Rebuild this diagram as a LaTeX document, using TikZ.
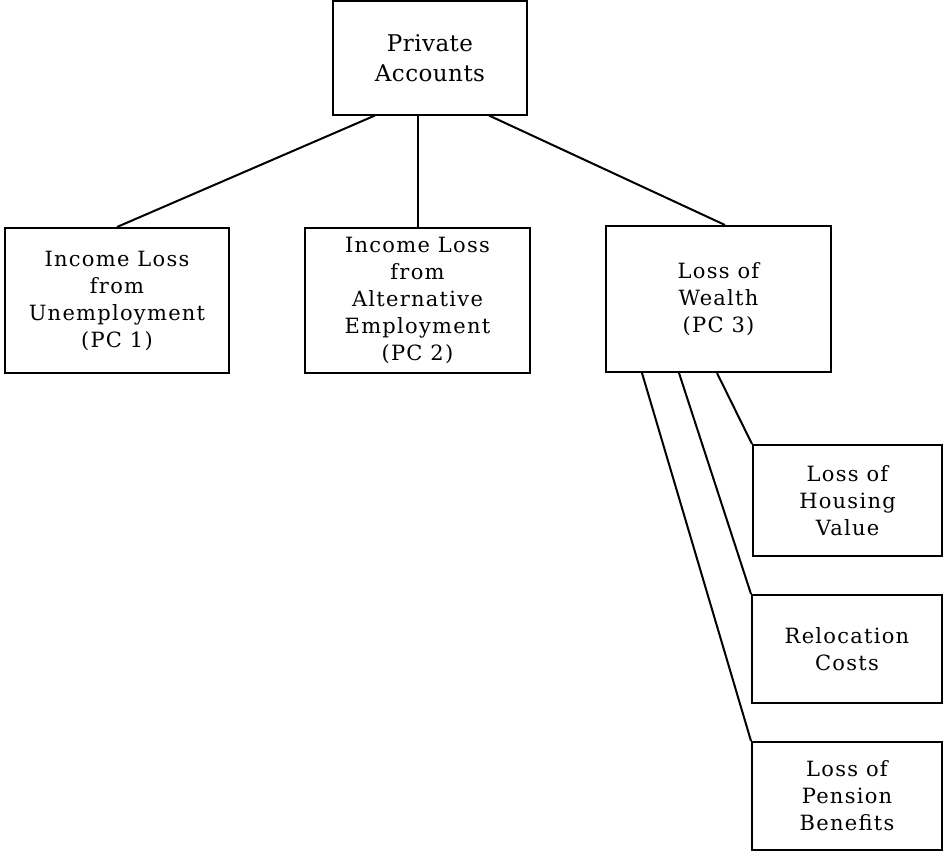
\documentclass[tikz,border=0pt]{standalone}
\usepackage{fontspec}
\newfontfamily\boxfont{DejaVu Serif}[LetterSpace=6]
\newfontfamily\topfont{DejaVu Serif}[LetterSpace=2]
\tikzset{
  box/.style={draw, line width=2pt, inner sep=0pt, align=center, anchor=center,
    font=\boxfont\fontsize{21}{27}\selectfont},
  topbox/.style={box, font=\topfont\fontsize{23}{30}\selectfont},
  link/.style={line width=2pt}
}
\begin{document}
\begin{tikzpicture}[x=1pt,y=-1pt]
\useasboundingbox (0,0) rectangle (948,851);
\node[topbox, minimum width=194pt, minimum height=113pt] (pa) at (430,58) {Private\\Accounts};
\node[box, minimum width=224pt, minimum height=145pt] (b1) at (117,300.5) {Income Loss\\from\\Unemployment\\(PC 1)};
\node[box, minimum width=225pt, minimum height=145pt] (b2) at (417.5,300.5) {Income Loss\\from\\Alternative\\Employment\\(PC 2)};
\node[box, minimum width=225pt, minimum height=146pt] (b3) at (718.5,299) {Loss of\\Wealth\\(PC 3)};
\node[box, minimum width=189pt, minimum height=111pt] (h) at (847.5,500.5) {Loss of\\Housing\\Value};
\node[box, minimum width=190pt, minimum height=108pt] (r) at (847,649) {Relocation\\Costs};
\node[box, minimum width=190pt, minimum height=108pt] (p) at (847,796) {Loss of\\Pension\\Benefits};
\draw[link] ([xshift=43pt]pa.south west) -- ([xshift=113pt]b1.north west);
\draw[link] ([xshift=86pt]pa.south west) -- ([xshift=114pt]b2.north west);
\draw[link] ([xshift=157pt]pa.south west) -- ([xshift=120pt]b3.north west);
\draw[link] ([xshift=112pt]b3.south west) -- (h.north west);
\draw[link] ([xshift=74pt]b3.south west) -- (r.north west);
\draw[link] ([xshift=37pt]b3.south west) -- (p.north west);
\end{tikzpicture}
\end{document}
